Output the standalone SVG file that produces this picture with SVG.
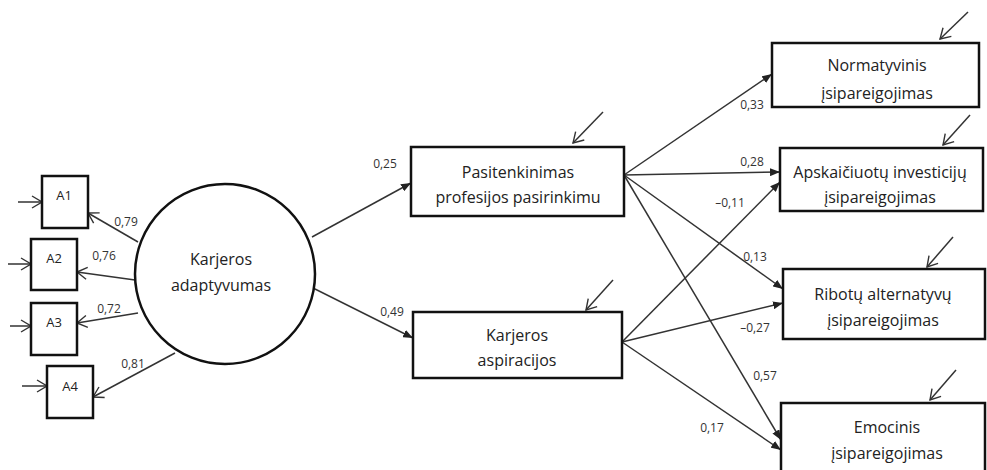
<svg xmlns="http://www.w3.org/2000/svg" width="987" height="470" viewBox="0 0 987 470">
<defs>
<marker id="fa" markerUnits="userSpaceOnUse" markerWidth="10" markerHeight="8" refX="10" refY="4" orient="auto"><path d="M0,0 L10,4 L0,8 z" fill="#222"/></marker>
<marker id="oa" markerUnits="userSpaceOnUse" markerWidth="12" markerHeight="14" refX="11" refY="7" orient="auto"><path d="M1,1 L11,7 L1,13" fill="none" stroke="#333" stroke-width="1.4"/></marker>
</defs>
<style>
.box{fill:#fff;stroke:#111;stroke-width:2.5}
.t{font-family:"Open Sans","Noto Sans",sans-serif;font-size:16px;fill:#222;text-anchor:middle}
.ta{font-family:"Open Sans","Noto Sans",sans-serif;font-size:13px;fill:#222;text-anchor:middle}
.l{font-family:"Open Sans","Noto Sans",sans-serif;font-size:12px;fill:#333;text-anchor:middle}
.c line{stroke:#333;stroke-width:1.5}
.f{marker-end:url(#fa)}
.o{marker-end:url(#oa)}
</style>
<g id="connectors" class="c">
<line class="o" x1="138" y1="242" x2="88" y2="213"/>
<line class="o" x1="135" y1="280" x2="77" y2="272"/>
<line class="o" x1="138" y1="313" x2="77" y2="323"/>
<line class="o" x1="175" y1="353" x2="93" y2="397"/>
<line class="o" x1="18" y1="202" x2="42" y2="202"/>
<line class="o" x1="8" y1="264" x2="31" y2="264"/>
<line class="o" x1="10" y1="326" x2="31" y2="326"/>
<line class="o" x1="22" y1="386" x2="47" y2="386"/>
<line class="f" x1="312" y1="237" x2="411" y2="183"/>
<line class="f" x1="313" y1="288" x2="413" y2="338"/>
<line class="o" x1="603" y1="112" x2="573" y2="143"/>
<line class="o" x1="613" y1="280" x2="586" y2="310"/>
<line class="o" x1="968" y1="12" x2="940" y2="39"/>
<line class="o" x1="970" y1="115" x2="943" y2="145"/>
<line class="o" x1="953" y1="237" x2="927" y2="267"/>
<line class="o" x1="956" y1="370" x2="930" y2="400"/>
<line class="f" x1="624" y1="175" x2="772" y2="74"/>
<line class="f" x1="624" y1="175" x2="780" y2="172"/>
<line class="f" x1="624" y1="175" x2="783" y2="289"/>
<line class="f" x1="624" y1="175" x2="781" y2="440"/>
<line class="f" x1="622" y1="342" x2="780" y2="182"/>
<line class="f" x1="622" y1="342" x2="783" y2="303"/>
<line class="f" x1="622" y1="342" x2="781" y2="450"/>
<text class="l" x="126" y="226">0,79</text>
<text class="l" x="104" y="260">0,76</text>
<text class="l" x="109" y="313">0,72</text>
<text class="l" x="133" y="368">0,81</text>
<text class="l" x="385" y="168">0,25</text>
<text class="l" x="392" y="316">0,49</text>
<text class="l" x="752" y="109">0,33</text>
<text class="l" x="752" y="166">0,28</text>
<text class="l" x="730" y="207">–0,11</text>
<text class="l" x="755" y="261">0,13</text>
<text class="l" x="755" y="332">–0,27</text>
<text class="l" x="765" y="380">0,57</text>
<text class="l" x="712" y="432">0,17</text>
</g>
<g id="A1"><rect class="box" x="42" y="176" width="46" height="52"/><text class="ta" x="64" y="200">A1</text></g>
<g id="A2"><rect class="box" x="31" y="239" width="46" height="51"/><text class="ta" x="54" y="263">A2</text></g>
<g id="A3"><rect class="box" x="31" y="303" width="46" height="52"/><text class="ta" x="54" y="327">A3</text></g>
<g id="A4"><rect class="box" x="47" y="366" width="46" height="52"/><text class="ta" x="70" y="391">A4</text></g>
<g id="karjeros-adaptyvumas"><circle cx="225" cy="274" r="90" fill="#fff" stroke="#111" stroke-width="2.5"/><text class="t" x="221" y="265">Karjeros</text><text class="t" x="221" y="291">adaptyvumas</text></g>
<g id="pasitenkinimas"><rect class="box" x="411" y="147" width="213" height="69"/><text class="t" x="518" y="178">Pasitenkinimas</text><text class="t" x="518" y="203">profesijos pasirinkimu</text></g>
<g id="karjeros-aspiracijos"><rect class="box" x="413" y="312" width="209" height="66"/><text class="t" x="517" y="341">Karjeros</text><text class="t" x="517" y="366">aspiracijos</text></g>
<g id="normatyvinis"><rect class="box" x="772" y="43" width="207" height="64"/><text class="t" x="877" y="71">Normatyvinis</text><text class="t" x="877" y="99">įsipareigojimas</text></g>
<g id="apskaiciuotu"><rect class="box" x="780" y="148" width="203" height="63"/><text class="t" x="880" y="178">Apskaičiuotų investicijų</text><text class="t" x="880" y="203">įsipareigojimas</text></g>
<g id="ribotu"><rect class="box" x="783" y="269" width="202" height="70"/><text class="t" x="883" y="300">Ribotų alternatyvų</text><text class="t" x="883" y="326">įsipareigojimas</text></g>
<g id="emocinis"><rect class="box" x="781" y="403" width="204" height="80"/><text class="t" x="887" y="433">Emocinis</text><text class="t" x="887" y="459">įsipareigojimas</text></g>
</svg>
